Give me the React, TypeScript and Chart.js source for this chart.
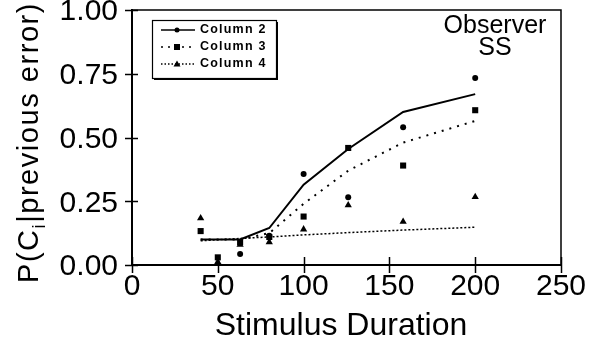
import React, { useEffect, useRef } from "react";
import { Chart, registerables } from "chart.js";

Chart.register(...registerables);

// ---- data ----
const durations = [40, 50, 63, 80, 100, 126, 158, 200];
const col2Obs: (number | null)[] = [null, null, 0.043, 0.115, 0.357, 0.266, 0.54, 0.733];
const col3Obs: (number | null)[] = [0.133, 0.03, 0.09, 0.11, 0.19, 0.459, 0.39, 0.607];
const col4Obs: (number | null)[] = [0.184, 0.012, 0.08, 0.09, 0.14, 0.235, 0.17, 0.267];

const fitX = [40, 63, 80, 100, 126, 158, 200];
const col2Fit = [0.1, 0.1, 0.145, 0.315, 0.455, 0.6, 0.67];
const col3Fit = [0.1, 0.1, 0.125, 0.24, 0.37, 0.48, 0.565];
const col4Fit = [0.095, 0.104, 0.11, 0.118, 0.127, 0.137, 0.148];

const xTicks = [0, 50, 100, 150, 200, 250];
const yTicks = [0, 0.25, 0.5, 0.75, 1.0];
const seriesNames = ["Column 2", "Column 3", "Column 4"];
const pointStyles = ["circle", "rect", "triangle"];
const pointRadii = [3, 4.3, 4.2];
const lineDashes: number[][] = [[], [2, 6], [2, 2]];
const lineWidths = [2, 2, 1.5];

const FONT = "'Liberation Sans', Arial, Helvetica, sans-serif";

const toPts = (xs: number[], ys: (number | null)[]) =>
  xs.map((x, i) => ({ x, y: ys[i] })).filter((p) => p.y !== null) as { x: number; y: number }[];

const framePlugin = {
  id: "framePlugin",
  afterDraw(chart: any) {
    const ctx: CanvasRenderingContext2D = chart.ctx;
    const { left, right, top, bottom } = chart.chartArea;
    const xs = chart.scales.x;
    const ys = chart.scales.y;
    ctx.save();
    ctx.strokeStyle = "#000";
    // top & right frame
    ctx.lineWidth = 1.5;
    ctx.beginPath();
    ctx.moveTo(left, top);
    ctx.lineTo(right, top);
    ctx.lineTo(right, bottom);
    ctx.stroke();
    // crossing ticks
    ctx.lineWidth = 1.5;
    ctx.beginPath();
    xTicks.forEach((v) => {
      const px = Math.round(xs.getPixelForValue(v)) + 0.5;
      ctx.moveTo(px, bottom - 8);
      ctx.lineTo(px, bottom + 8);
    });
    yTicks.forEach((v) => {
      const py = Math.round(ys.getPixelForValue(v)) + 0.5;
      ctx.moveTo(left - 7, py);
      ctx.lineTo(left + 6, py);
    });
    ctx.stroke();

    // x title
    ctx.fillStyle = "#000";
    ctx.font = `32px ${FONT}`;
    ctx.textAlign = "center";
    ctx.textBaseline = "alphabetic";
    ctx.fillText("Stimulus Duration", 341, 335);

    // y title (rotated, with subscript)
    ctx.save();
    ctx.translate(38, 0);
    ctx.rotate(-Math.PI / 2);
    ctx.textAlign = "left";
    const big = `29px ${FONT}`;
    const small = `18px ${FONT}`;
    const parts: [string, string, number][] = [
      ["P(C", big, 0],
      ["i", small, 7],
      ["|previous error)", big, 0],
    ];
    let total = 0;
    let nchars = 0;
    parts.forEach(([t, f]) => {
      ctx.font = f;
      total += ctx.measureText(t).width;
      nchars += t.length;
    });
    const target = 281;
    const ls = (target - total) / nchars;
    let u = -283;
    parts.forEach(([t, f, dv]) => {
      ctx.font = f;
      for (const ch of t) {
        ctx.fillText(ch, u, dv);
        u += ctx.measureText(ch).width + ls;
      }
    });
    ctx.restore();

    // observer text
    ctx.font = `25px ${FONT}`;
    ctx.textAlign = "center";
    ctx.fillText("Observer", 495, 33);
    ctx.fillText("SS", 495, 55);

    // legend box
    const bx = 152, by = 20, bw = 124, bh = 58;
    ctx.fillStyle = "#fff";
    ctx.fillRect(bx, by, bw, bh);
    ctx.fillStyle = "#000";
    ctx.fillRect(bx + 2, by + bh, bw, 2);
    ctx.fillRect(bx + bw, by + 2, 2, bh);
    ctx.lineWidth = 1.2;
    ctx.strokeRect(bx + 0.5, by + 0.5, bw, bh);
    const rows = [30, 47, 64];
    seriesNames.forEach((name, i) => {
      const y = rows[i];
      ctx.save();
      ctx.lineWidth = 1.5;
      ctx.setLineDash(i === 0 ? [] : i === 1 ? [2, 5] : [1.5, 2]);
      ctx.beginPath();
      ctx.moveTo(161, y);
      ctx.lineTo(195, y);
      ctx.stroke();
      ctx.restore();
      // marker
      const mx = 177;
      ctx.beginPath();
      if (i === 0) {
        ctx.arc(mx, y, 2.5, 0, Math.PI * 2);
        ctx.fill();
      } else if (i === 1) {
        ctx.fillRect(mx - 3, y - 3, 6, 6);
      } else {
        ctx.moveTo(mx, y - 3.5);
        ctx.lineTo(mx + 3.5, y + 2.5);
        ctx.lineTo(mx - 3.5, y + 2.5);
        ctx.closePath();
        ctx.fill();
      }
      ctx.font = `bold 12.5px ${FONT}`;
      ctx.textAlign = "left";
      ctx.textBaseline = "middle";
      (ctx as any).letterSpacing = "1.2px";
      ctx.fillText(name, 200, y);
      (ctx as any).letterSpacing = "0px";
    });
    ctx.restore();
  },
};

export default function App() {
  const ref = useRef<HTMLCanvasElement | null>(null);
  useEffect(() => {
    if (!ref.current) return;
    const obs = [col2Obs, col3Obs, col4Obs];
    const fits = [col2Fit, col3Fit, col4Fit];
    const datasets: any[] = [];
    fits.forEach((f, i) => {
      datasets.push({
        label: seriesNames[i] + " fit",
        data: toPts(fitX, f),
        showLine: true,
        borderColor: "#000",
        borderWidth: lineWidths[i],
        borderDash: lineDashes[i],
        pointRadius: 0,
        tension: 0,
        fill: false,
      });
    });
    obs.forEach((o, i) => {
      datasets.push({
        label: seriesNames[i],
        data: toPts(durations, o),
        showLine: false,
        pointStyle: pointStyles[i],
        pointRadius: pointRadii[i],
        pointBackgroundColor: "#000",
        pointBorderColor: "#000",
        pointBorderWidth: 0,
      });
    });
    const chart = new Chart(ref.current, {
      type: "scatter",
      data: { datasets },
      options: {
        animation: false,
        responsive: false,
        events: [],
        layout: { padding: { top: 10, right: 36, left: 0, bottom: 0 } },
        plugins: { legend: { display: false }, tooltip: { enabled: false } },
        scales: {
          x: {
            type: "linear",
            min: 0,
            max: 250,
            afterBuildTicks: (s: any) => {
              s.ticks = xTicks.map((v) => ({ value: v }));
            },
            ticks: {
              color: "#000",
              font: { family: FONT, size: 30, lineHeight: 1.2 },
              padding: 4,
              maxRotation: 0,
              callback: (v: any) => String(v),
            },
            grid: { display: false, drawTicks: false },
            border: { display: true, color: "#000", width: 2 },
            afterFit: (s: any) => {
              s.height = 82;
            },
          },
          y: {
            type: "linear",
            min: 0,
            max: 1,
            afterBuildTicks: (s: any) => {
              s.ticks = yTicks.map((v) => ({ value: v }));
            },
            ticks: {
              color: "#000",
              font: { family: FONT, size: 30, lineHeight: 1.2 },
              padding: 14,
              labelOffset: 2,
              callback: (v: any) => Number(v).toFixed(2),
            },
            grid: { display: false, drawTicks: false },
            border: { display: true, color: "#000", width: 2 },
            afterFit: (s: any) => {
              s.width = 132;
              s.paddingTop = 0;
              s.paddingBottom = 0;
            },
          },
        },
      } as any,
      plugins: [framePlugin],
    });
    return () => chart.destroy();
  }, []);
  return (
    <div style={{ position: "absolute", left: 0, top: 0, width: 597, height: 347, background: "#fff" }}>
      <canvas ref={ref} width={597} height={347} style={{ display: "block" }} />
    </div>
  );
}
